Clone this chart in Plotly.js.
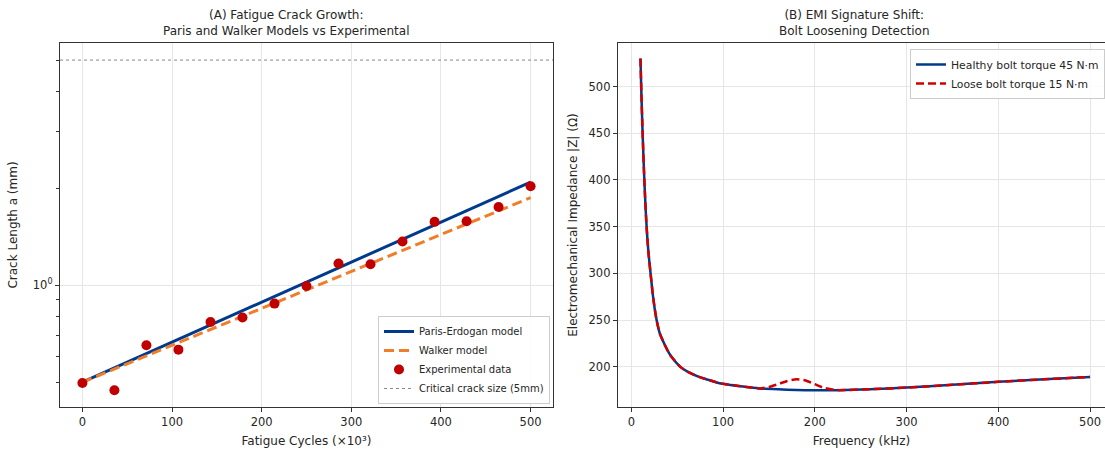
<!DOCTYPE html>
<html>
<head>
<meta charset="utf-8">
<script src="https://cdn.plot.ly/plotly-3.0.1.min.js"></script>
<style>html,body{margin:0;padding:0;background:#fff;overflow:hidden;}#chart{width:1105px;height:450px;}</style>
</head>
<body>
<div id="chart"></div>
<script>
// ---- Panel A: fatigue crack growth ----
const modelCycles = [0, 100, 200, 300, 400, 500];
const parisCrack  = [0.50, 0.665, 0.885, 1.178, 1.567, 2.09];
const walkerCrack = [0.50, 0.651, 0.847, 1.104, 1.437, 1.87];
const expCycles = [0, 35.7, 71.4, 107.1, 142.9, 178.6, 214.3, 250, 285.7, 321.4, 357.1, 392.9, 428.6, 464.3, 500];
const expCrack  = [0.497, 0.472, 0.651, 0.631, 0.769, 0.794, 0.877, 0.995, 1.168, 1.162, 1.367, 1.573, 1.58, 1.75, 2.03];
const criticalCycles = [-25, 525];
const criticalCrack = [5, 5];

// ---- Panel B: EMI signature ----
const freqHealthy = [10, 11, 12, 13, 14, 15, 16, 17, 18, 19, 21, 23.6, 27.2, 31, 36.3, 41, 43.6, 53.4, 61.7, 74.5, 85.4, 96.3, 121.7, 140, 160, 180, 200, 224, 260, 300, 350, 400, 450, 500];
const zHealthy    = [530, 492, 460, 431, 405, 382, 362, 345, 331, 319, 300, 276, 252, 236, 224, 215, 211, 200, 194.6, 189, 185.7, 182.5, 179, 177, 176, 175.3, 175, 175, 176.2, 177.9, 180.8, 184, 186.7, 189.3];
const freqLoose = [10, 11, 12, 13, 14, 15, 16, 17, 18, 19, 21, 23.6, 27.2, 31, 36.3, 41, 43.6, 53.4, 61.7, 74.5, 85.4, 96.3, 121.7, 140, 150, 160, 170, 180, 190, 200, 210, 224, 260, 300, 350, 400, 450, 500];
const zLoose    = [530, 492, 460, 431, 405, 382, 362, 345, 331, 319, 300, 276, 252, 236, 224, 215, 211, 200, 194.6, 189, 185.7, 182.5, 179, 177, 178.5, 181.5, 185, 186.8, 185.5, 181.5, 177.5, 175.2, 176.2, 177.9, 180.8, 184, 186.7, 189.3];

const FONT = 'DejaVu Sans, sans-serif';
const TXT = '#262626';

const traces = [
  {x: modelCycles, y: parisCrack, type: 'scatter', mode: 'lines', name: 'Paris-Erdogan model',
   line: {color: '#003a8c', width: 3}, xaxis: 'x', yaxis: 'y', legend: 'legend'},
  {x: modelCycles, y: walkerCrack, type: 'scatter', mode: 'lines', name: 'Walker model',
   line: {color: '#f07d2a', width: 3, dash: '10px,5px'}, xaxis: 'x', yaxis: 'y', legend: 'legend'},
  {x: expCycles, y: expCrack, type: 'scatter', mode: 'markers', name: 'Experimental data',
   marker: {color: '#c00000', size: 10}, xaxis: 'x', yaxis: 'y', legend: 'legend'},
  {x: criticalCycles, y: criticalCrack, type: 'scatter', mode: 'lines', name: 'Critical crack size (5mm)',
   line: {color: '#888888', width: 1, dash: 'dot'}, xaxis: 'x', yaxis: 'y', legend: 'legend'},
  {x: freqHealthy, y: zHealthy, type: 'scatter', mode: 'lines', name: 'Healthy bolt torque 45 N·m',
   line: {color: '#003a8c', width: 2.5, shape: 'spline', smoothing: 0.5}, xaxis: 'x2', yaxis: 'y2', legend: 'legend2'},
  {x: freqLoose, y: zLoose, type: 'scatter', mode: 'lines', name: 'Loose bolt torque 15 N·m',
   line: {color: '#d00000', width: 2.5, dash: '8px,4px', shape: 'spline', smoothing: 0.5}, xaxis: 'x2', yaxis: 'y2', legend: 'legend2'}
];

const axisCommon = {
  showline: true, linecolor: '#333333', linewidth: 1.2,
  ticks: 'outside', ticklen: 4, tickcolor: '#333333', tickwidth: 1,
  gridcolor: '#e6e6e6', gridwidth: 1, zeroline: false,
  tickfont: {family: FONT, size: 11.5, color: TXT},
  automargin: false
};

const layout = {
  width: 1105, height: 450,
  margin: {l: 0, r: 0, t: 0, b: 0, autoexpand: false},
  paper_bgcolor: '#ffffff', plot_bgcolor: '#ffffff',
  font: {family: FONT, color: TXT},
  xaxis: Object.assign({}, axisCommon, {
    domain: [60/1105, 553/1105], range: [-25, 525], mirror: true,
    tickvals: [0, 100, 200, 300, 400, 500],
    title: {text: 'Fatigue Cycles (×10³)', font: {family: FONT, size: 12, color: TXT}, standoff: 8},
    anchor: 'y'
  }),
  yaxis: Object.assign({}, axisCommon, {
    domain: [43/450, 407/450], type: 'log', range: [-0.378, 0.752], mirror: true,
    tickvals: [1], ticktext: ['10<sup>0</sup>'],
    minor: {tickvals: [0.5, 0.6, 0.7, 0.8, 0.9, 2, 3, 4, 5], ticklen: 2.5, tickcolor: '#333333', showgrid: false},
    title: {text: 'Crack Length a (mm)', font: {family: FONT, size: 12, color: TXT}, standoff: 12},
    anchor: 'x'
  }),
  xaxis2: Object.assign({}, axisCommon, {
    domain: [618/1105, 1], range: [-14.5, 516.3], mirror: true,
    tickvals: [0, 100, 200, 300, 400, 500],
    title: {text: 'Frequency (kHz)', font: {family: FONT, size: 12, color: TXT}, standoff: 8},
    anchor: 'y2'
  }),
  yaxis2: Object.assign({}, axisCommon, {
    domain: [43/450, 407/450], range: [157.1, 546.5], mirror: false,
    tickvals: [200, 250, 300, 350, 400, 450, 500],
    title: {text: 'Electromechanical Impedance |Z| (Ω)', font: {family: FONT, size: 12, color: TXT}, standoff: 8},
    anchor: 'x2'
  }),
  legend: {
    x: 550/1105, xanchor: 'right', y: 46/450, yanchor: 'bottom',
    bgcolor: 'rgba(255,255,255,0.85)', bordercolor: '#cccccc', borderwidth: 1,
    font: {family: FONT, size: 10, color: TXT}, tracegroupgap: 0, itemwidth: 30
  },
  legend2: {
    x: 1, xanchor: 'right', y: 401/450, yanchor: 'top',
    bgcolor: 'rgba(255,255,255,0.85)', bordercolor: '#cccccc', borderwidth: 1,
    font: {family: FONT, size: 10.8, color: TXT}, tracegroupgap: 0, itemwidth: 30
  },
  annotations: [
    {text: '(A) Fatigue Crack Growth:<br>Paris and Walker Models vs Experimental', xref: 'paper', yref: 'paper',
     x: 286/1105, y: 1 - 6/450, xanchor: 'center', yanchor: 'top', showarrow: false,
     font: {family: FONT, size: 12, color: TXT}},
    {text: '(B) EMI Signature Shift:<br>Bolt Loosening Detection', xref: 'paper', yref: 'paper',
     x: 854/1105, y: 1 - 6/450, xanchor: 'center', yanchor: 'top', showarrow: false,
     font: {family: FONT, size: 12, color: TXT}}
  ],
  showlegend: true
};

Plotly.newPlot('chart', traces, layout, {displayModeBar: false, staticPlot: true});
</script>
</body>
</html>
